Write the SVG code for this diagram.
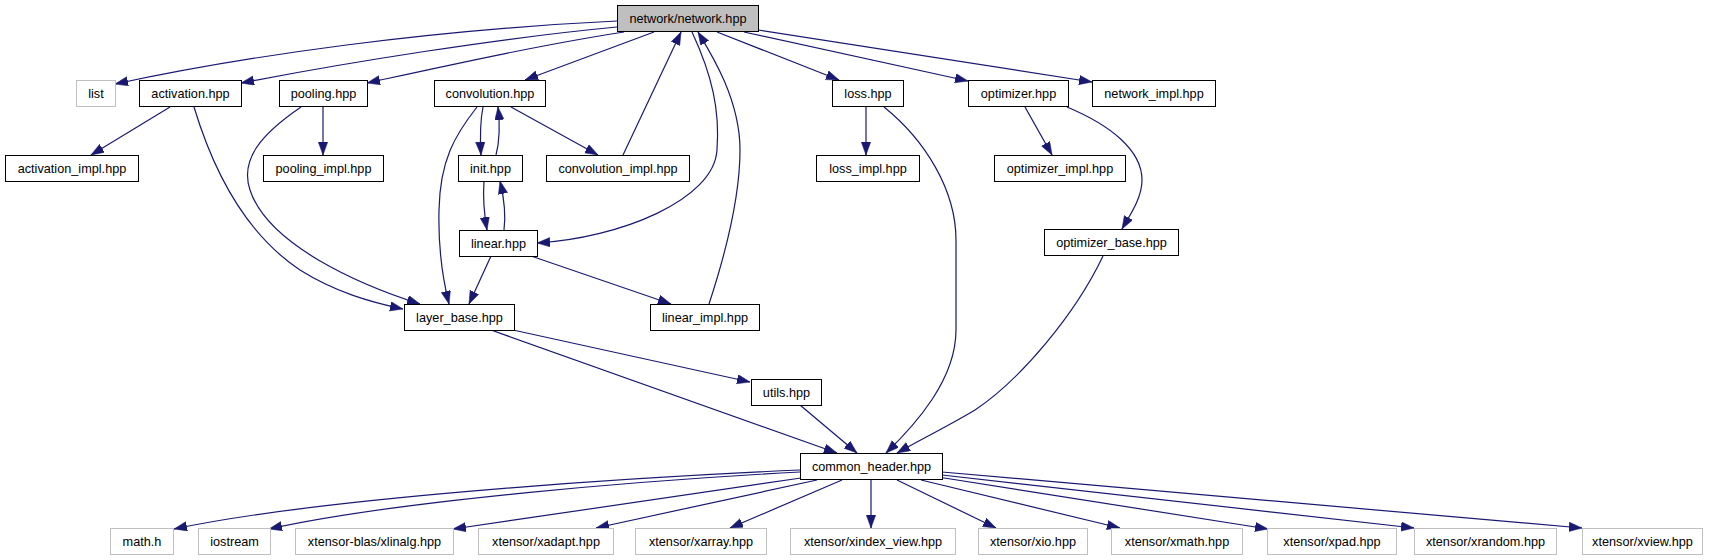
<svg xmlns="http://www.w3.org/2000/svg" width="1713" height="560" viewBox="0 0 1713 560">
<style>
  .n rect{fill:#fff;stroke:#000;stroke-width:1}
  .g rect{fill:#fff;stroke:#bfbfbf;stroke-width:1}
  .root rect{fill:#bfbfbf;stroke:#000;stroke-width:1}
  text{font-family:"Liberation Sans",Arial,sans-serif;font-size:12.7px;fill:#000;text-anchor:middle}
  #edges path{fill:none;stroke:#191970;stroke-width:1.2;marker-end:url(#ah)}
</style>
<defs>
  <marker id="ah" markerUnits="userSpaceOnUse" markerWidth="14" markerHeight="10" refX="13" refY="4.7" orient="auto">
    <path d="M0,0 L13,4.7 L0,9.4 z" fill="#191970" stroke="#191970" stroke-width="0.5"/>
  </marker>
</defs>
<rect width="1713" height="560" fill="#fff"/>
<g id="edges">
  <path d="M617,21 C430,30 250,55 115,84"/>
  <path d="M617,27 C500,38 350,62 241,83"/>
  <path d="M624,32 C540,45 450,65 367,83"/>
  <path d="M654,32 L525,80"/>
  <path d="M717,32 L839,80"/>
  <path d="M744,32 L968,81"/>
  <path d="M758,30 L1092,82"/>
  <path d="M692,32 C712,75 720,110 717,150 C714,200 620,238 537,243"/>
  <path d="M623,155 L681,32"/>
  <path d="M709,304 C730,240 740,190 740,150 C740,100 712,55 698,32"/>
  <path d="M170,107 L91,155"/>
  <path d="M194,107 C210,160 240,230 300,270 C335,292 370,302 403,309"/>
  <path d="M323,107 L323,155"/>
  <path d="M301,107 C260,135 240,160 250,190 C268,245 360,285 420,304"/>
  <path d="M483,107 C480,122 480,138 481,155"/>
  <path d="M496,155 C500,140 500,125 498,107"/>
  <path d="M511,107 L598,155"/>
  <path d="M477,107 C455,135 440,160 439,210 C438,250 443,280 449,304"/>
  <path d="M484,181 C483,195 484,213 487,230"/>
  <path d="M504,230 C506,215 504,198 500,181"/>
  <path d="M491,256 L469,304"/>
  <path d="M531,256 L671,304"/>
  <path d="M513,330 L750,382"/>
  <path d="M491,330 L837,453"/>
  <path d="M800,405 L857,453"/>
  <path d="M866,107 L866,155"/>
  <path d="M884,107 C925,140 956,190 956,240 L956,330 C956,380 915,425 886,453"/>
  <path d="M1025,107 L1052,155"/>
  <path d="M1067,107 C1110,125 1142,150 1142,180 C1142,198 1130,215 1122,229"/>
  <path d="M1103,256 C1075,315 1020,380 975,410 C950,425 920,440 897,453"/>
  <path d="M800,470 C620,478 320,498 174,529"/>
  <path d="M800,472 C650,480 400,500 269,529"/>
  <path d="M801,478 L453,529"/>
  <path d="M817,480 L596,528"/>
  <path d="M842,480 L730,528"/>
  <path d="M871,480 L871,528"/>
  <path d="M897,480 L996,528"/>
  <path d="M921,480 L1120,528"/>
  <path d="M938,477 L1268,529"/>
  <path d="M942,475 L1414,528"/>
  <path d="M942,472 L1582,528"/>
</g>
<g id="network_hpp" class="root"><rect x="617.5" y="5.5" width="141" height="26"/><text x="688" y="23">network/network.hpp</text></g>
<g id="list" class="g"><rect x="76.5" y="80.5" width="39" height="26"/><text x="96" y="98">list</text></g>
<g id="activation_hpp" class="n"><rect x="139.5" y="80.5" width="102" height="26"/><text x="190.5" y="98">activation.hpp</text></g>
<g id="pooling_hpp" class="n"><rect x="279.5" y="80.5" width="88" height="26"/><text x="323.5" y="98">pooling.hpp</text></g>
<g id="convolution_hpp" class="n"><rect x="434.5" y="80.5" width="111" height="26"/><text x="490" y="98">convolution.hpp</text></g>
<g id="loss_hpp" class="n"><rect x="832.5" y="80.5" width="71" height="26"/><text x="868" y="98">loss.hpp</text></g>
<g id="optimizer_hpp" class="n"><rect x="968.5" y="80.5" width="100" height="26"/><text x="1018.5" y="98">optimizer.hpp</text></g>
<g id="network_impl_hpp" class="n"><rect x="1092.5" y="80.5" width="123" height="26"/><text x="1154" y="98">network_impl.hpp</text></g>
<g id="activation_impl_hpp" class="n"><rect x="5.5" y="155.5" width="133" height="26"/><text x="72" y="173">activation_impl.hpp</text></g>
<g id="pooling_impl_hpp" class="n"><rect x="263.5" y="155.5" width="120" height="26"/><text x="323.5" y="173">pooling_impl.hpp</text></g>
<g id="init_hpp" class="n"><rect x="458.5" y="155.5" width="64" height="26"/><text x="490.5" y="173">init.hpp</text></g>
<g id="convolution_impl_hpp" class="n"><rect x="546.5" y="155.5" width="143" height="26"/><text x="618" y="173">convolution_impl.hpp</text></g>
<g id="loss_impl_hpp" class="n"><rect x="816.5" y="155.5" width="103" height="26"/><text x="868" y="173">loss_impl.hpp</text></g>
<g id="optimizer_impl_hpp" class="n"><rect x="994.5" y="155.5" width="131" height="26"/><text x="1060" y="173">optimizer_impl.hpp</text></g>
<g id="linear_hpp" class="n"><rect x="459.5" y="230.5" width="78" height="26"/><text x="498.5" y="248">linear.hpp</text></g>
<g id="optimizer_base_hpp" class="n"><rect x="1044.5" y="229.5" width="134" height="26"/><text x="1111.5" y="247">optimizer_base.hpp</text></g>
<g id="layer_base_hpp" class="n"><rect x="404.5" y="304.5" width="110" height="26"/><text x="459.5" y="322">layer_base.hpp</text></g>
<g id="linear_impl_hpp" class="n"><rect x="650.5" y="304.5" width="109" height="26"/><text x="705" y="322">linear_impl.hpp</text></g>
<g id="utils_hpp" class="n"><rect x="751.5" y="379.5" width="70" height="26"/><text x="786.5" y="397">utils.hpp</text></g>
<g id="common_header_hpp" class="n"><rect x="800.5" y="453.5" width="142" height="26"/><text x="871.5" y="471">common_header.hpp</text></g>
<g id="math_h" class="g"><rect x="110.5" y="528.5" width="63" height="26"/><text x="142" y="546">math.h</text></g>
<g id="iostream" class="g"><rect x="198.5" y="528.5" width="72" height="26"/><text x="234.5" y="546">iostream</text></g>
<g id="xlinalg" class="g"><rect x="295.5" y="528.5" width="158" height="26"/><text x="374.5" y="546">xtensor-blas/xlinalg.hpp</text></g>
<g id="xadapt" class="g"><rect x="478.5" y="528.5" width="135" height="26"/><text x="546" y="546">xtensor/xadapt.hpp</text></g>
<g id="xarray" class="g"><rect x="635.5" y="528.5" width="131" height="26"/><text x="701" y="546">xtensor/xarray.hpp</text></g>
<g id="xindex_view" class="g"><rect x="790.5" y="528.5" width="165" height="26"/><text x="873" y="546">xtensor/xindex_view.hpp</text></g>
<g id="xio" class="g"><rect x="978.5" y="528.5" width="109" height="26"/><text x="1033" y="546">xtensor/xio.hpp</text></g>
<g id="xmath" class="g"><rect x="1111.5" y="528.5" width="131" height="26"/><text x="1177" y="546">xtensor/xmath.hpp</text></g>
<g id="xpad" class="g"><rect x="1267.5" y="528.5" width="129" height="26"/><text x="1332" y="546">xtensor/xpad.hpp</text></g>
<g id="xrandom" class="g"><rect x="1414.5" y="528.5" width="142" height="26"/><text x="1485.5" y="546">xtensor/xrandom.hpp</text></g>
<g id="xview" class="g"><rect x="1582.5" y="528.5" width="120" height="26"/><text x="1642.5" y="546">xtensor/xview.hpp</text></g>
</svg>
